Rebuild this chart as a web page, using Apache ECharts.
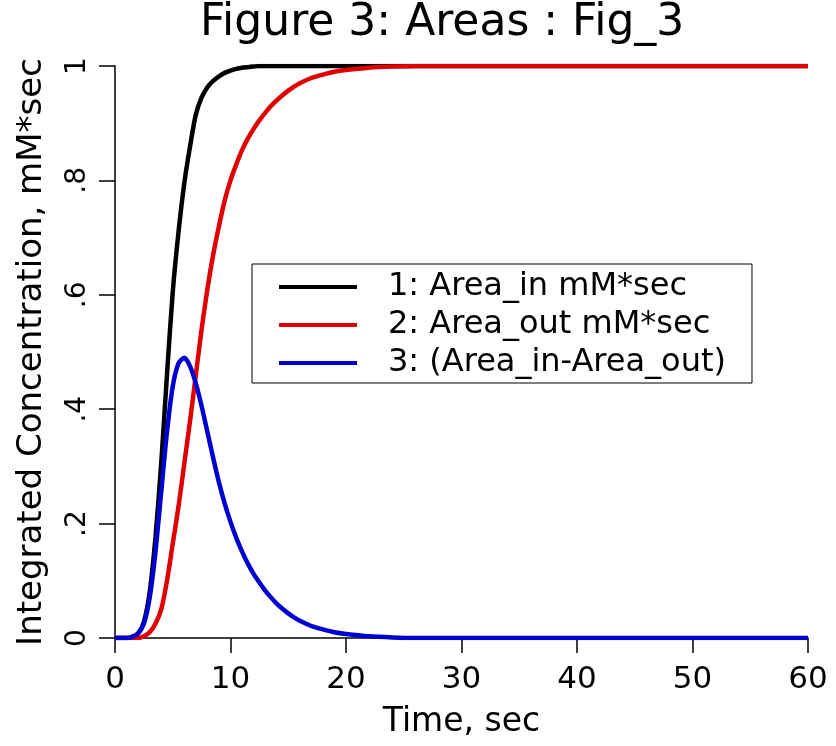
<!DOCTYPE html>
<html>
<head>
<meta charset="utf-8">
<script src="https://cdn.jsdelivr.net/npm/echarts@6/dist/echarts.min.js"></script>
<style>
  html, body { margin: 0; padding: 0; background: #fff; }
  #chart { width: 836px; height: 746px; }
</style>
</head>
<body>
<div id="chart"></div>
<script>
// time grid, sec
const time = [0, 0.5, 1, 1.5, 2, 2.5, 3, 3.5, 4, 4.5, 5, 5.5, 6, 6.5, 7, 7.5, 8, 8.5, 9, 9.5, 10, 10.5, 11, 11.5, 12, 12.5, 13, 13.5, 14, 14.5, 15, 15.5, 16,
    17, 18, 19, 20, 22, 24, 26, 30, 40, 50, 60]
const areaIn = [0, 0, 0, 0.002, 0.008, 0.028, 0.08, 0.175, 0.305, 0.46, 0.605, 0.71, 0.795, 0.86, 0.915, 0.945, 0.963, 0.974, 0.982, 0.988, 0.992, 0.995, 0.997, 0.998, 0.999, 1, 1, 1, 1, 1, 1, 1, 1,
    1, 1, 1, 1, 1, 1, 1, 1, 1, 1, 1]
const areaOut = [0, 0, 0, 0, 0, 0.003, 0.01, 0.025, 0.05, 0.1, 0.165, 0.23, 0.305, 0.38, 0.46, 0.54, 0.61, 0.67, 0.72, 0.765, 0.8, 0.828, 0.853, 0.873, 0.89, 0.905, 0.918, 0.93, 0.94, 0.949, 0.957, 0.964, 0.97,
    0.979, 0.985, 0.99, 0.993, 0.997, 0.999, 1, 1, 1, 1, 1]
const areaDiff = [0, 0, 0, 0.002, 0.008, 0.025, 0.07, 0.15, 0.255, 0.36, 0.44, 0.48, 0.49, 0.475, 0.445, 0.405, 0.36, 0.315, 0.272, 0.235, 0.203, 0.175, 0.151, 0.13, 0.112, 0.097, 0.083, 0.071, 0.06, 0.051, 0.043, 0.036, 0.03,
    0.021, 0.015, 0.01, 0.007, 0.003, 0.001, 0, 0, 0, 0, 0]
const yTickLabels = ['0', '.2', '.4', '.6', '.8', '1']

const seriesNames = ['1: Area_in mM*sec', '2: Area_out mM*sec', '3: (Area_in-Area_out)']
const seriesColors = ['#000000', '#e00000', '#0000d0']

const pairs = (ys) => time.map((t, i) => [t, ys[i]])

const chart = echarts.init(document.getElementById('chart'))
const font = 'DejaVu Sans'

chart.setOption({
    backgroundColor: '#fff',
    animation: false,
    title: {
        text: 'Figure 3: Areas : Fig_3',
        left: 195,
        top: -3,
        textStyle: { fontFamily: font, fontSize: 44, fontWeight: 'normal', color: '#000' }
    },
    legend: {
        orient: 'vertical',
        left: 252,
        top: 264,
        padding: [4, 26, 1, 27],
        itemGap: 0,
        itemWidth: 78,
        itemHeight: 4,
        icon: 'rect',
        borderColor: '#000',
        borderWidth: 1,
        backgroundColor: '#fff',
        textStyle: { fontFamily: font, fontSize: 32, color: '#000', lineHeight: 38, padding: [0, 0, 0, 26] },
        data: seriesNames
    },
    grid: { left: 115, right: 28, top: 66, bottom: 108 },
    xAxis: {
        type: 'value',
        min: 0,
        max: 60,
        interval: 10,
        name: 'Time, sec',
        nameLocation: 'middle',
        nameGap: 68,
        nameTextStyle: { fontFamily: font, fontSize: 33, color: '#000' },
        splitLine: { show: false },
        axisLine: { lineStyle: { color: '#000', width: 1.5 } },
        axisTick: { length: 15, lineStyle: { color: '#000', width: 1.5 } },
        axisLabel: { fontFamily: font, fontSize: 31, color: '#000', margin: 26 }
    },
    yAxis: {
        type: 'value',
        min: 0,
        max: 1,
        interval: 0.2,
        name: 'Integrated Concentration, mM*sec',
        nameLocation: 'middle',
        nameGap: 66,
        nameTextStyle: { fontFamily: font, fontSize: 34, color: '#000' },
        splitLine: { show: false },
        axisLine: { show: true, lineStyle: { color: '#000', width: 1.5 } },
        axisTick: { show: true, length: 16, lineStyle: { color: '#000', width: 1.5 } },
        axisLabel: {
            fontFamily: font, fontSize: 28, color: '#000', margin: 23, rotate: 90,
            formatter: (v) => yTickLabels[Math.round(v / 0.2)]
        }
    },
    series: [areaIn, areaOut, areaDiff].map((ys, i) => ({
        name: seriesNames[i],
        type: 'line',
        data: pairs(ys),
        smooth: 0.25,
        showSymbol: false,
        color: seriesColors[i],
        lineStyle: { width: 4.5, color: seriesColors[i] }
    }))
})
</script>
</body>
</html>
